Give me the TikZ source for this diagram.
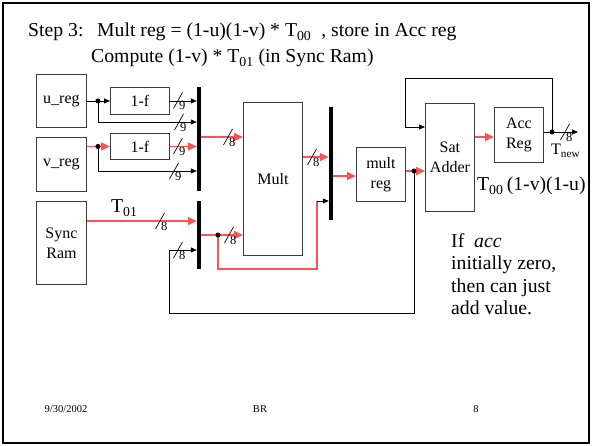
\documentclass[tikz,border=0pt]{standalone}
\usepackage{fontspec}
\setmainfont{Liberation Serif}
\usepackage{xcolor}
\usetikzlibrary{arrows.meta,positioning,calc}
\definecolor{wirered}{HTML}{FF5252}
\definecolor{boxgray}{HTML}{3C3C3C}

\tikzset{
  regbox/.style={draw=boxgray, line width=0.9pt, align=center, inner sep=0pt,
                 anchor=north west, font=\fontsize{16}{20}\selectfont},
  busbar/.style={fill=black, inner sep=0pt, minimum width=4pt},
  plain/.style={line width=0.8pt},
  wire/.style={line width=0.8pt, -{Triangle[length=6pt,width=5pt]}},
  redwire/.style={draw=wirered, line width=1.6pt, -{Triangle[length=9pt,width=8pt]}},
  jdot/.style={circle, fill=black, inner sep=0pt, minimum size=5pt},
  slidetext/.style={font=\fontsize{19.7}{22.5}\selectfont},
  pics/wmark/.style={code={
    \draw[black, line width=0.7pt, -] (-4.5pt,-8pt) -- (4.5pt,8pt);
    \node[font=\fontsize{12.5}{12.5}\selectfont, anchor=north west, inner sep=0pt]
      at (1pt,-1pt) {#1};}}
}

\begin{document}
\begin{tikzpicture}[x=1pt, y=-1pt]
  \useasboundingbox (0,0) rectangle (592,446);
  \draw[line width=2.2pt] (3,3) rectangle (589,443);

  % title
  \node[slidetext, anchor=base west, inner sep=0pt] (steplbl) at (28,37) {Step 3:};
  \node[slidetext, anchor=base west, inner sep=0pt] (line1) at (97,37)
    {Mult reg = (1-u)(1-v) * T\textsubscript{00}\hspace{10pt}, store in Acc reg};
  \node[slidetext, anchor=base west, inner sep=0pt] (line2) at (91,63)
    {Compute (1-v) * T\textsubscript{01} (in Sync Ram)};

  % blocks
  \node[regbox, minimum width=50pt, minimum height=53pt] (ureg) at (36,74) {u\_reg};
  \node[regbox, minimum width=50pt, minimum height=54pt] (vreg) at (36,137) {v\_reg};
  \node[regbox, minimum width=50pt, minimum height=83pt] (sram) at (36,201) {Sync\\Ram};
  \node[regbox, minimum width=59pt, minimum height=27pt] (fu) at (110,87) {1-f};
  \node[regbox, minimum width=59pt, minimum height=26pt] (fv) at (110,133) {1-f};
  \node[regbox, minimum width=59pt, minimum height=153pt] (mult) at (243,102) {Mult};
  \node[regbox, minimum width=49pt, minimum height=54pt] (mreg) at (356,147) {mult\\reg};
  \node[regbox, minimum width=49pt, minimum height=108pt] (sat) at (425,103) {Sat\\Adder};
  \node[regbox, minimum width=49pt, minimum height=55pt] (acc) at (494,107) {Acc\\Reg};

  % bus bars
  \node[busbar, minimum height=104pt] (busa) at (199,139) {};
  \node[busbar, minimum height=68pt] (busb) at (199,235) {};
  \node[busbar, minimum height=113pt] (busc) at (331,163.5) {};

  % u and v inputs
  \coordinate (ju) at ([xshift=11pt]ureg.east);
  \coordinate (jv) at (ju |- fv.west);
  \draw[plain] (ureg.east) -- (ju);
  \draw[wire] (ju) -- (fu.west);
  \draw[wire] (ju) |- (busa.west |- 0,122);
  \draw[wire] (fu.east) -- (fu.east -| busa.west);
  \draw[redwire, -] (vreg.east |- jv) -- (jv);
  \draw[redwire] (jv) -- (fv.west);
  \draw[wire] (jv) |- (busa.west |- 0,171);
  \draw[redwire] (fv.east) -- (fv.east -| busa.west);
  \draw[redwire] (busa.east |- 0,137) -- (mult.west |- 0,137);

  % sync ram and second bus
  \draw[redwire] (sram.east |- 0,221) -- (busb.west |- 0,221);
  \node[slidetext, anchor=base west, inner sep=0pt] (t01) at (111,213) {T\textsubscript{01}};
  \coordinate (jb) at (218,235);
  \coordinate (bend) at (317,201);
  \draw[redwire, -] (busb.east |- jb) -- (jb);
  \draw[redwire] (jb) -- (mult.west |- jb);
  \draw[redwire, -] (jb) -- (218,269) -| (bend);
  \draw[wire] (bend) -- (busc.west |- bend);

  % mult to sat adder
  \draw[redwire] (mult.east |- 0,157) -- (busc.west |- 0,157);
  \draw[redwire] (busc.east |- 0,176) -- (mreg.west |- 0,176);
  \coordinate (jm) at (414,171);
  \draw[redwire, -] (mreg.east |- jm) -- (jm);
  \draw[redwire] (jm) -- (sat.west |- jm);
  \draw[wire] (jm) -- (414,313) -| (169,250) -- (busb.west |- 0,250);
  \draw[redwire] (sat.east |- 0,137) -- (acc.west |- 0,137);

  % accumulator output and loop back
  \coordinate (ja) at (552,132);
  \coordinate (tout) at (578,132);
  \draw[plain] (acc.east |- ja) -- (ja);
  \draw[wire] (ja) -- (tout);
  \draw[wire] (ja) -- (552,78) -| (405,127) -- (sat.west |- 0,127);

  \foreach \j in {ju,jv,jb,jm,ja} \node[jdot] at (\j) {};

  % width marks
  \pic at (178,100.5) {wmark=9};
  \pic at (179,122) {wmark=9};
  \pic at (178,146) {wmark=9};
  \pic at (174,171) {wmark=9};
  \pic at (228,137) {wmark=8};
  \pic at (160,221) {wmark=8};
  \pic at (229,235) {wmark=8};
  \pic at (178,250) {wmark=8};
  \pic at (312,157) {wmark=8};
  \pic at (565,132) {wmark=8};

  % labels
  \node[font=\fontsize{16}{16}\selectfont, anchor=base west, inner sep=0pt] (tnew) at (551,155) {T\textsubscript{new}};
  \node[slidetext, anchor=base west, inner sep=0pt] (tval) at (477,191) {T\textsubscript{00}\,(1-v)(1-u)};
  \node[slidetext, anchor=north west, align=left, inner sep=0pt] (note) at (451,233)
    {If\ \ \textit{acc}\\initially zero,\\then can just\\add value.};

  % footer
  \node[font=\fontsize{10.5}{12}\selectfont] (date) at (66,409) {9/30/2002};
  \node[font=\fontsize{10.5}{12}\selectfont] (author) at (260,409) {BR};
  \node[font=\fontsize{10.5}{12}\selectfont] (page) at (476,409) {8};
\end{tikzpicture}
\end{document}
